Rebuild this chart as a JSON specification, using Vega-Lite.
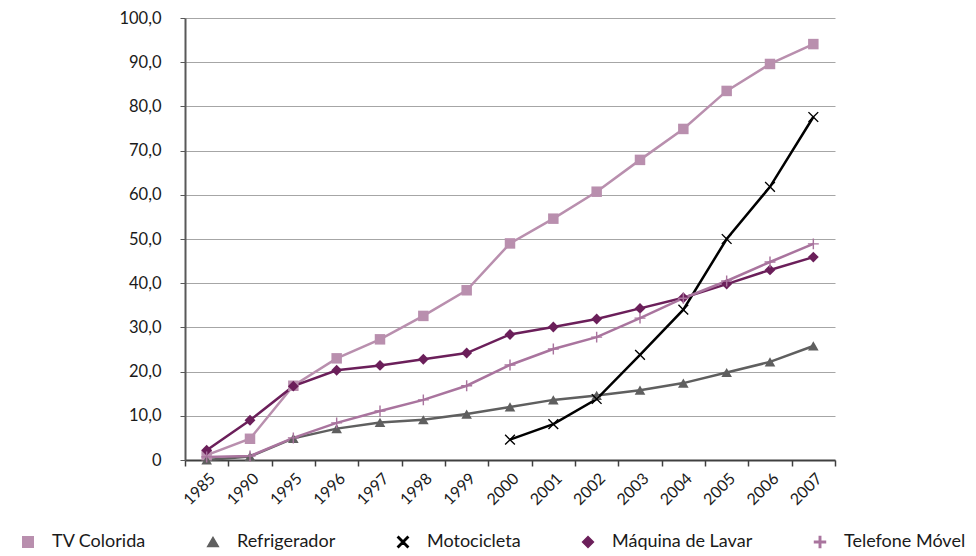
{
  "$schema": "https://vega.github.io/schema/vega-lite/v6.json",
  "width": 650,
  "height": 442,
  "autosize": {"type": "none"},
  "padding": {"left": 185, "top": 18, "right": 141, "bottom": 96},
  "background": "white",
  "config": {
    "font": "Lato",
    "view": {"stroke": null}
  },
  "data": {
    "values": [
      {"year": "1985", "series": "TV Colorida", "value": 1.1},
      {"year": "1990", "series": "TV Colorida", "value": 4.8},
      {"year": "1995", "series": "TV Colorida", "value": 16.8},
      {"year": "1996", "series": "TV Colorida", "value": 23.0},
      {"year": "1997", "series": "TV Colorida", "value": 27.3},
      {"year": "1998", "series": "TV Colorida", "value": 32.6},
      {"year": "1999", "series": "TV Colorida", "value": 38.4},
      {"year": "2000", "series": "TV Colorida", "value": 49.0},
      {"year": "2001", "series": "TV Colorida", "value": 54.6},
      {"year": "2002", "series": "TV Colorida", "value": 60.7},
      {"year": "2003", "series": "TV Colorida", "value": 67.9},
      {"year": "2004", "series": "TV Colorida", "value": 74.9},
      {"year": "2005", "series": "TV Colorida", "value": 83.5},
      {"year": "2006", "series": "TV Colorida", "value": 89.6},
      {"year": "2007", "series": "TV Colorida", "value": 94.1},
      {"year": "1985", "series": "Refrigerador", "value": 0.0},
      {"year": "1990", "series": "Refrigerador", "value": 0.8},
      {"year": "1995", "series": "Refrigerador", "value": 4.9},
      {"year": "1996", "series": "Refrigerador", "value": 7.1},
      {"year": "1997", "series": "Refrigerador", "value": 8.5},
      {"year": "1998", "series": "Refrigerador", "value": 9.1},
      {"year": "1999", "series": "Refrigerador", "value": 10.4},
      {"year": "2000", "series": "Refrigerador", "value": 12.0},
      {"year": "2001", "series": "Refrigerador", "value": 13.6},
      {"year": "2002", "series": "Refrigerador", "value": 14.6},
      {"year": "2003", "series": "Refrigerador", "value": 15.8},
      {"year": "2004", "series": "Refrigerador", "value": 17.4},
      {"year": "2005", "series": "Refrigerador", "value": 19.8},
      {"year": "2006", "series": "Refrigerador", "value": 22.2},
      {"year": "2007", "series": "Refrigerador", "value": 25.8},
      {"year": "2000", "series": "Motocicleta", "value": 4.6},
      {"year": "2001", "series": "Motocicleta", "value": 8.1},
      {"year": "2002", "series": "Motocicleta", "value": 13.8},
      {"year": "2003", "series": "Motocicleta", "value": 23.8},
      {"year": "2004", "series": "Motocicleta", "value": 34.0},
      {"year": "2005", "series": "Motocicleta", "value": 50.0},
      {"year": "2006", "series": "Motocicleta", "value": 61.8},
      {"year": "2007", "series": "Motocicleta", "value": 77.6},
      {"year": "1985", "series": "Máquina de Lavar", "value": 2.2},
      {"year": "1990", "series": "Máquina de Lavar", "value": 9.0},
      {"year": "1995", "series": "Máquina de Lavar", "value": 16.7},
      {"year": "1996", "series": "Máquina de Lavar", "value": 20.3},
      {"year": "1997", "series": "Máquina de Lavar", "value": 21.4},
      {"year": "1998", "series": "Máquina de Lavar", "value": 22.8},
      {"year": "1999", "series": "Máquina de Lavar", "value": 24.2},
      {"year": "2000", "series": "Máquina de Lavar", "value": 28.4},
      {"year": "2001", "series": "Máquina de Lavar", "value": 30.1},
      {"year": "2002", "series": "Máquina de Lavar", "value": 31.9},
      {"year": "2003", "series": "Máquina de Lavar", "value": 34.3},
      {"year": "2004", "series": "Máquina de Lavar", "value": 36.7},
      {"year": "2005", "series": "Máquina de Lavar", "value": 39.8},
      {"year": "2006", "series": "Máquina de Lavar", "value": 43.0},
      {"year": "2007", "series": "Máquina de Lavar", "value": 45.9},
      {"year": "1985", "series": "Telefone Móvel", "value": 0.7},
      {"year": "1990", "series": "Telefone Móvel", "value": 0.9},
      {"year": "1995", "series": "Telefone Móvel", "value": 5.0},
      {"year": "1996", "series": "Telefone Móvel", "value": 8.4},
      {"year": "1997", "series": "Telefone Móvel", "value": 11.1},
      {"year": "1998", "series": "Telefone Móvel", "value": 13.6},
      {"year": "1999", "series": "Telefone Móvel", "value": 16.8},
      {"year": "2000", "series": "Telefone Móvel", "value": 21.5},
      {"year": "2001", "series": "Telefone Móvel", "value": 25.1},
      {"year": "2002", "series": "Telefone Móvel", "value": 27.8},
      {"year": "2003", "series": "Telefone Móvel", "value": 32.1},
      {"year": "2004", "series": "Telefone Móvel", "value": 36.6},
      {"year": "2005", "series": "Telefone Móvel", "value": 40.5},
      {"year": "2006", "series": "Telefone Móvel", "value": 44.8},
      {"year": "2007", "series": "Telefone Móvel", "value": 48.9}
    ]
  },
  "encoding": {
    "x": {
      "field": "year",
      "type": "ordinal",
      "title": null,
      "scale": {"type": "band", "paddingInner": 0, "paddingOuter": 0},
      "axis": {
        "labelAngle": -45,
        "labelFontSize": 16,
        "labelColor": "#1a1a1a",
        "labelPadding": 4,
        "domainColor": "#404040",
        "domainWidth": 2,
        "tickColor": "#404040",
        "tickWidth": 1.5,
        "tickSize": 6,
        "tickBand": "extent",
        "grid": false
      }
    },
    "y": {
      "field": "value",
      "type": "quantitative",
      "title": null,
      "scale": {"domain": [0, 100], "nice": false},
      "axis": {
        "values": [0, 10, 20, 30, 40, 50, 60, 70, 80, 90, 100],
        "labelExpr": "datum.value == 0 ? '0' : replace(format(datum.value, '.1f'), '.', ',')",
        "labelFontSize": 16.5,
        "labelColor": "#1a1a1a",
        "labelPadding": 19,
        "domainColor": "#595959",
        "domainWidth": 2,
        "tickColor": "#595959",
        "tickSize": 5,
        "grid": true,
        "gridColor": "#a6a6a6",
        "gridWidth": 1
      }
    },
    "color": {
      "field": "series",
      "type": "nominal",
      "scale": {
        "domain": ["TV Colorida", "Refrigerador", "Motocicleta", "Máquina de Lavar", "Telefone Móvel"],
        "range": ["#b98fae", "#5f5f5f", "#000000", "#6b1f5a", "#a9749e"]
      },
      "legend": {
        "title": null,
        "orient": "none",
        "direction": "horizontal",
        "legendX": -166,
        "legendY": 515,
        "labelFontSize": 18,
        "labelColor": "#1a1a1a",
        "labelOffset": 15,
        "columnPadding": 58,
        "symbolSize": 120,
        "symbolOpacity": 1
      }
    }
  },
  "layer": [
    {"mark": {"type": "line", "strokeWidth": 2.5}},
    {
      "mark": {"type": "point", "filled": true, "opacity": 1},
      "encoding": {
        "shape": {
          "field": "series",
          "type": "nominal",
          "scale": {
            "domain": ["TV Colorida", "Refrigerador", "Motocicleta", "Máquina de Lavar", "Telefone Móvel"],
            "range": [
              "square",
              "triangle-up",
              "M-1,-0.82L-0.82,-1L0,-0.18L0.82,-1L1,-0.82L0.18,0L1,0.82L0.82,1L0,0.18L-0.82,1L-1,0.82L-0.18,0Z",
              "diamond",
              "M-1,-0.13H-0.13V-1H0.13V-0.13H1V0.13H0.13V1H-0.13V0.13H-1Z"
            ]
          }
        },
        "size": {
          "field": "series",
          "type": "nominal",
          "legend": null,
          "scale": {
            "domain": ["TV Colorida", "Refrigerador", "Motocicleta", "Máquina de Lavar", "Telefone Móvel"],
            "range": [110, 120, 70, 60, 160]
          }
        }
      }
    }
  ]
}
